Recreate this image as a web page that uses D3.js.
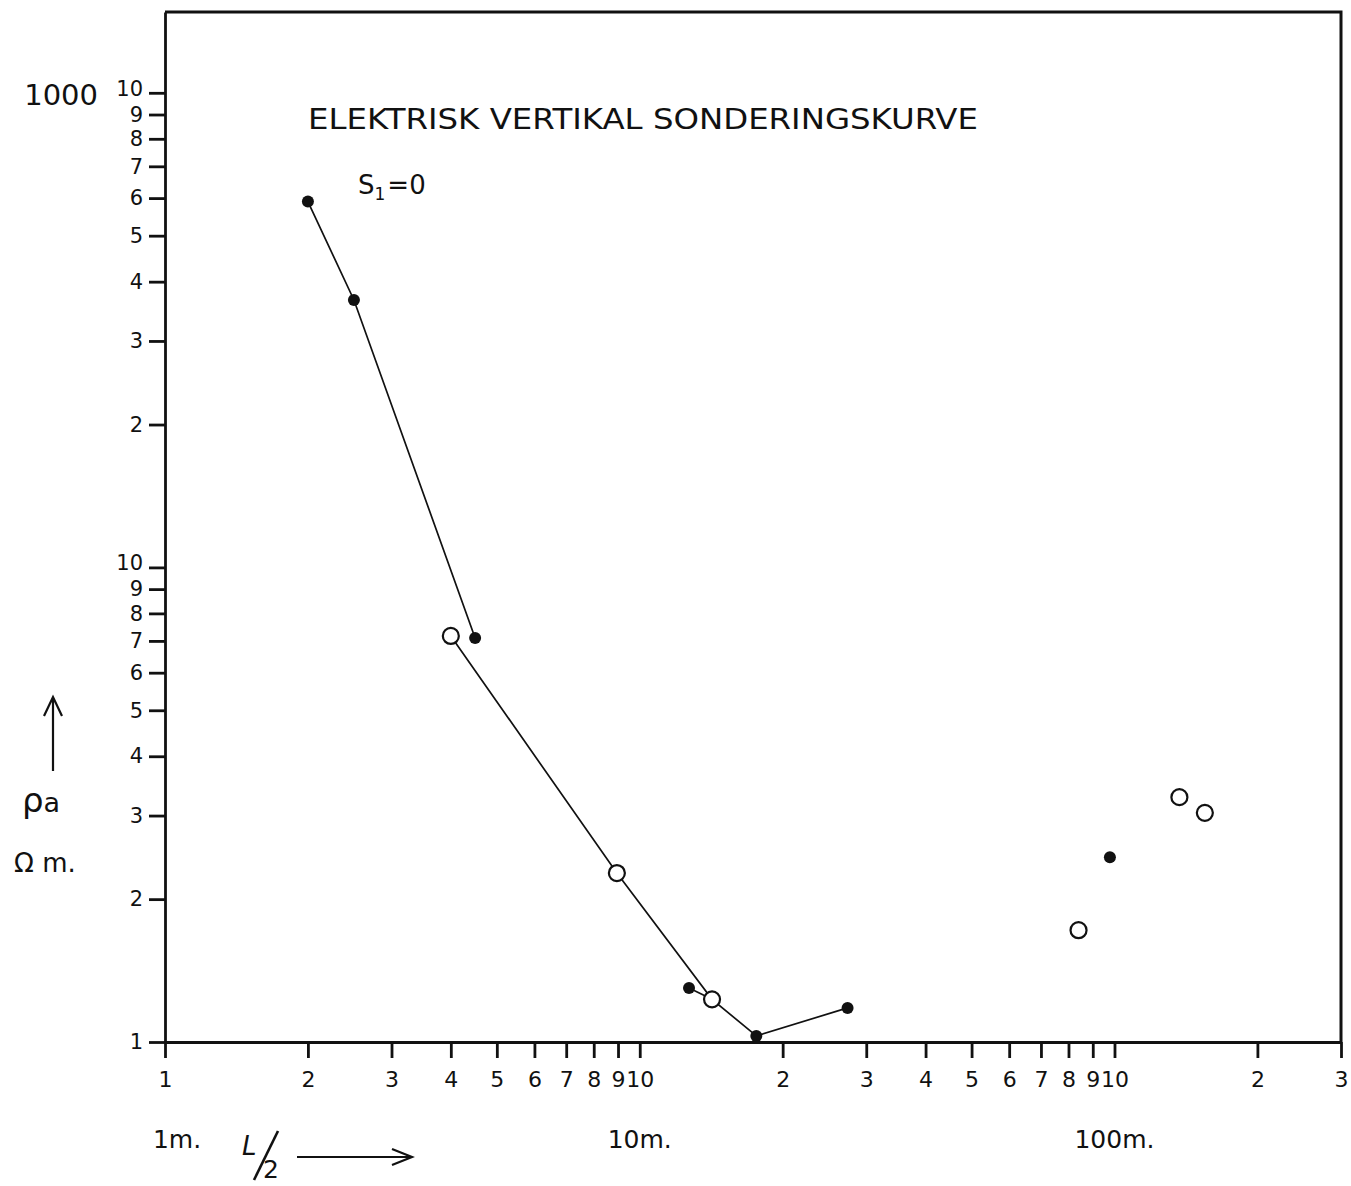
<!DOCTYPE html>
<html>
<head>
<meta charset="utf-8">
<script src="https://cdn.jsdelivr.net/npm/d3@7"></script>
<style>
    body { margin: 0; background: #fff; }
    svg { display: block; }
    text { font-family: 'DejaVu Sans', sans-serif; fill: #111; }
    .axis path, .axis line { stroke: #111; stroke-width: 2.8; }
    .axis text { font-size: 22px; font-family: 'DejaVu Sans', sans-serif; fill: #111; }
    .y-axis text { font-size: 21px; }
</style>
</head>
<body>
<div id="chart"></div>
<script>
// Tick values and the labels written on the sheet
var xTicks = [1, 2, 3, 4, 5, 6, 7, 8, 9, 10, 20, 30, 40, 50, 60, 70, 80, 90, 100, 200, 300];
var xTickLabels = ['1', '2', '3', '4', '5', '6', '7', '8', '9', '10',
    '2', '3', '4', '5', '6', '7', '8', '9', '10', '2', '3'];
var yTicks = [1, 2, 3, 4, 5, 6, 7, 8, 9, 10, 20, 30, 40, 50, 60, 70, 80, 90, 100];
var yTickLabels = ['1', '2', '3', '4', '5', '6', '7', '8', '9', '10',
    '2', '3', '4', '5', '6', '7', '8', '9', '10'];
var xUnitValues = [1, 10, 100];
var xUnitLabels = ['1m.', '10m.', '100m.'];

// Measured points (L/2, rho_a)
var filledX = [2.0, 2.5, 4.5, 12.7, 17.6, 27.4, 97.8];
var filledY = [59, 36.6, 7.1, 1.30, 1.03, 1.18, 2.45];
var openX = [4.0, 8.95, 14.2, 84, 137, 155];
var openY = [7.17, 2.27, 1.23, 1.72, 3.28, 3.04];

// Drawn curve pieces
var lineUpper = [[2.0, 59], [2.5, 36.6], [4.5, 7.1]];
var lineLower = [[4.0, 7.17], [8.95, 2.27], [14.2, 1.23], [17.6, 1.03], [27.4, 1.18]];
var lineLink = [[12.7, 1.30], [14.2, 1.23]];

var width = 1351;
var height = 1186;

var svg = d3.select('#chart').append('svg')
    .attr('width', width)
    .attr('height', height);

var xScale = d3.scaleLog()
    .domain([1, 300])
    .range([165, 1341]);

var yScale = d3.scaleLog()
    .domain([1, 148])
    .range([1042, 12]);

// Frame top and right
svg.append('path')
    .attr('d', 'M' + xScale(1) + ',' + yScale(148) + 'H' + xScale(300) + 'V' + yScale(1))
    .attr('fill', 'none')
    .attr('stroke', '#111')
    .attr('stroke-width', 3);

var xAxis = svg.append('g')
    .attr('class', 'axis x-axis')
    .attr('transform', 'translate(0,' + yScale(1) + ')')
    .call(d3.axisBottom(xScale)
        .tickValues(xTicks)
        .tickFormat((d, i) => xTickLabels[i])
        .tickSize(16)
        .tickSizeOuter(0)
        .tickPadding(13));

var yAxis = svg.append('g')
    .attr('class', 'axis y-axis')
    .attr('transform', 'translate(' + xScale(1) + ',0)')
    .call(d3.axisLeft(yScale)
        .tickValues(yTicks)
        .tickFormat((d, i) => yTickLabels[i])
        .tickSize(16)
        .tickSizeOuter(0)
        .tickPadding(6));

// the "10" labels sit a little high, as on the sheet
yAxis.selectAll('.tick text')
    .filter((d) => d === 10 || d === 100)
    .attr('dy', '0.12em');

// Unit labels under the x axis
svg.selectAll('.unit-label')
    .data(xUnitValues).enter()
    .append('text')
        .attr('class', 'unit-label')
        .attr('x', (d) => xScale(d) + (d === 1 ? 12 : 0))
        .attr('y', 1148)
        .attr('text-anchor', 'middle')
        .attr('font-size', 25)
        .text((d, i) => xUnitLabels[i]);

// Curves
var plotLine = d3.line()
    .x(d => xScale(d[0]))
    .y(d => yScale(d[1]));

[lineUpper, lineLower, lineLink].forEach((pts) => {
    svg.append('path')
        .datum(pts)
        .attr('class', 'plot-line')
        .attr('fill', 'none')
        .attr('stroke', '#111')
        .attr('stroke-width', 1.7)
        .attr('d', plotLine);
});

svg.selectAll('.point-open')
    .data(openX).enter()
    .append('circle')
        .attr('class', 'point-open')
        .attr('r', 8)
        .attr('cx', d => xScale(d))
        .attr('cy', (d, i) => yScale(openY[i]))
        .attr('fill', '#fff')
        .attr('stroke', '#111')
        .attr('stroke-width', 2.2);

svg.selectAll('.point-filled')
    .data(filledX).enter()
    .append('circle')
        .attr('class', 'point-filled')
        .attr('r', 6)
        .attr('cx', d => xScale(d))
        .attr('cy', (d, i) => yScale(filledY[i]))
        .attr('fill', '#111');

// Title and notes
svg.append('text')
    .attr('x', 308)
    .attr('y', 129)
    .attr('font-size', 29)
    .attr('textLength', 670)
    .attr('lengthAdjust', 'spacingAndGlyphs')
    .text('ELEKTRISK VERTIKAL SONDERINGSKURVE');

var sLabel = svg.append('text')
    .attr('x', 358)
    .attr('y', 194)
    .attr('font-size', 26);
sLabel.append('tspan').text('S');
sLabel.append('tspan').attr('font-size', 17).attr('dy', 6).text('1');
sLabel.append('tspan').attr('dy', -6).attr('dx', 2).text('=0');

svg.append('text')
    .attr('x', 98)
    .attr('y', 105)
    .attr('text-anchor', 'end')
    .attr('font-size', 29)
    .text('1000');

// Y axis caption
var rho = svg.append('text')
    .attr('x', 22)
    .attr('y', 812)
    .attr('font-size', 34);
rho.append('tspan').text('ρ');
rho.append('tspan').attr('font-size', 27).text('a');

svg.append('text')
    .attr('x', 14)
    .attr('y', 872)
    .attr('font-size', 26)
    .text('Ω m.');

svg.append('path')
    .attr('d', 'M53,771V699M44,716L53,697L62,716')
    .attr('fill', 'none')
    .attr('stroke', '#111')
    .attr('stroke-width', 2.2);

// X axis caption L/2 with arrow
svg.append('text')
    .attr('x', 242)
    .attr('y', 1155)
    .attr('font-size', 26)
    .attr('font-style', 'italic')
    .text('L');
svg.append('path')
    .attr('d', 'M254,1180L278,1131')
    .attr('stroke', '#111')
    .attr('stroke-width', 2.6);
svg.append('text')
    .attr('x', 263)
    .attr('y', 1178)
    .attr('font-size', 25)
    .text('2');
svg.append('path')
    .attr('d', 'M297,1157H410M392,1149L412,1157L392,1165')
    .attr('fill', 'none')
    .attr('stroke', '#111')
    .attr('stroke-width', 2.2);
</script>
</body>
</html>
